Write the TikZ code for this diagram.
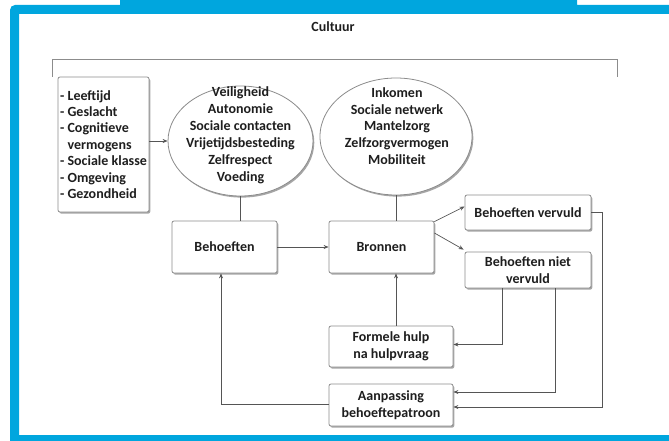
\documentclass[tikz,border=0pt]{standalone}
\usepackage{fontspec}
\setmainfont{Carlito}
\usetikzlibrary{arrows.meta,shapes.geometric,shadows}
\definecolor{frameblue}{RGB}{0,166,222}
\definecolor{boxgray}{RGB}{140,140,140}
\definecolor{linegray}{RGB}{85,85,85}
\definecolor{txt}{RGB}{30,30,30}
\begin{document}
\begin{tikzpicture}[x=1pt,y=-1pt,
  every node/.style={text=txt},
  fnt/.style={font=\bfseries\fontsize{14}{17}\selectfont},
  shadowed/.style={drop shadow={shadow xshift=1.3pt,shadow yshift=-1.6pt,opacity=0.35,fill=black}},
  box/.style={fnt,draw=boxgray,line width=0.8pt,rounded corners=2pt,fill=white,inner sep=0pt,align=center,shadowed},
  oval/.style={ellipse,draw=boxgray,line width=0.8pt,fill=white,inner sep=0pt,shadowed},
  conn/.style={draw=linegray,line width=0.7pt},
  arr/.style={conn,-{Stealth[length=5pt,width=4pt]}}
]
\useasboundingbox (0,0) rectangle (669,441);
% blue frame
\fill[frameblue] (10,441) [rounded corners=5pt] -- (10,5) -- (60,5) [sharp corners] -- (120,5) -- (120,0) -- (577,0) -- (577,5) -- (669,5) -- (669,14) -- (19,14) -- (19,435) -- (669,435) -- (669,441) -- cycle;
% title and bracket
\node[fnt] (cult) at (333,27) {Cultuur};
\draw[draw=boxgray,line width=0.9pt] (52,77) -- (52,59) -- (617,59) -- (617,77);
% attributes box
\node[box,minimum width=91pt,minimum height=135pt,align=left,font=\bfseries\fontsize{14}{16.4}\selectfont] (attr) at (103.5,144.5)
 {- Leeftijd\\- Geslacht\\- Cognitieve\\\phantom{- }vermogens\\- Sociale klasse\\- Omgeving\\- Gezondheid};
% ellipses
\node[oval,minimum width=145pt,minimum height=110pt] (e1) at (240.5,141) {};
\node[fnt,align=center,inner sep=0pt] (e1t) at (240.5,135) {Veiligheid\\Autonomie\\Sociale contacten\\Vrijetijdsbesteding\\Zelfrespect\\Voeding};
\node[oval,minimum width=152pt,minimum height=117pt] (e2) at (396,136.5) {};
\node[fnt,align=center,inner sep=0pt,font=\bfseries\fontsize{14}{16.8}\selectfont] (e2t) at (397,126) {Inkomen\\Sociale netwerk\\Mantelzorg\\Zelfzorgvermogen\\Mobiliteit};
% boxes
\node[box,minimum width=105pt,minimum height=52pt] (beh) at (224.5,247) {Behoeften};
\node[box,minimum width=105pt,minimum height=52pt] (bron) at (381.5,247) {Bronnen};
\node[box,minimum width=126pt,minimum height=35pt] (verv) at (528,212.5) {Behoeften vervuld};
\node[box,minimum width=126pt,minimum height=36pt] (niet) at (528,270) {Behoeften niet\\vervuld};
\node[box,minimum width=124pt,minimum height=41pt] (form) at (391,346.5) {Formele hulp\\na hulpvraag};
\node[box,minimum width=124pt,minimum height=42pt] (aanp) at (391,405) {Aanpassing\\behoeftepatroon};
% connectors
\draw[arr] (attr.east |- e1.west) -- (e1.west);
\draw[conn] (e1.south) -- (beh.north -| e1.south);
\draw[conn] (e2.south) -- (bron.north -| e2.south);
\draw[arr] (beh.east) -- (bron.west);
\draw[arr] ([yshift=-1pt]bron.north east) -- ([yshift=6pt]verv.west);
\draw[arr] ([yshift=14pt]bron.east) -- ([xshift=-1pt,yshift=2pt]niet.north west);
\draw[arr] (form.north -| e2.south) -- (bron.south -| e2.south);
\draw[arr] ([xshift=-26pt]niet.south) |- ([yshift=2pt]form.east);
\draw[arr] ([xshift=27pt]niet.south) |- ([yshift=13pt]aanp.east);
\draw[arr] (verv.east) -- ++(11,0) |- ([yshift=-2pt]aanp.east);
\draw[arr] ([yshift=1pt]aanp.west) -| ([xshift=-3.5pt]beh.south);
\end{tikzpicture}
\end{document}
